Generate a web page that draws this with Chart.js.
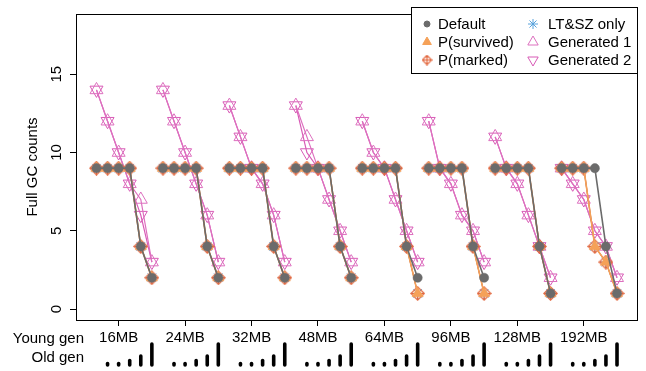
<!DOCTYPE html>
<html>
<head>
<meta charset="utf-8">
<script src="https://cdn.jsdelivr.net/npm/chart.js@4.4.1/dist/chart.umd.min.js"></script>
<style>
  html, body { margin: 0; padding: 0; background: #fff; }
</style>
</head>
<body>
<canvas id="gcChart" width="646" height="371"></canvas>
<script>
// young gen size per group, old gen grows left to right inside each group
const youngGen = ['16MB', '24MB', '32MB', '48MB', '64MB', '96MB', '128MB', '192MB'];
const oldGenSteps = [0, 1, 1, 3, 6, 14];

// full GC counts, 6 old gen sizes per young gen group
const defaultGC = [
  9, 9, 9, 9, 4, 2,
  9, 9, 9, 9, 4, 2,
  9, 9, 9, 9, 4, 2,
  9, 9, 9, 9, 4, 2,
  9, 9, 9, 9, 4, 2,
  9, 9, 9, 9, 4, 2,
  9, 9, 9, 9, 4, 1,
  9, 9, 9, 9, 4, 1
];
const survivedGC = [
  9, 9, 9, 9, 4, 2,
  9, 9, 9, 9, 4, 2,
  9, 9, 9, 9, 4, 2,
  9, 9, 9, 9, 4, 2,
  9, 9, 9, 9, 4, 1,
  9, 9, 9, 9, 4, 1,
  9, 9, 9, 9, 4, 1,
  9, 9, 9, 4, 3, 1
];
const markedGC = [
  9, 9, 9, 9, 4, 2,
  9, 9, 9, 9, 4, 2,
  9, 9, 9, 9, 4, 2,
  9, 9, 9, 9, 4, 2,
  9, 9, 9, 9, 4, 1,
  9, 9, 9, 9, 4, 1,
  9, 9, 9, 9, 4, 1,
  9, 9, 9, 4, 3, 1
];
const ltszGC = [
  9, 9, 9, 9, 4, 2,
  9, 9, 9, 9, 4, 2,
  9, 9, 9, 9, 4, 2,
  9, 9, 9, 9, 4, 2,
  9, 9, 9, 9, 4, 1,
  9, 9, 9, 9, 4, 1,
  9, 9, 9, 9, 4, 1,
  9, 9, 9, 4, 3, 1
];
const gen1GC = [
  14, 12, 10, 8, 7, 3,
  14, 12, 10, 8, 6, 3,
  13, 11, 9, 8, 6, 3,
  13, 11, 9, 7, 5, 3,
  12, 10, 9, 7, 5, 3,
  12, 9, 8, 6, 5, 3,
  11, 9, 8, 6, 4, 2,
  9, 8, 7, 5, 4, 2
];
const gen2GC = [
  14, 12, 10, 8, 6, 3,
  14, 12, 10, 8, 6, 3,
  13, 11, 9, 8, 6, 3,
  13, 10, 9, 7, 5, 3,
  12, 10, 9, 7, 5, 3,
  12, 9, 8, 6, 5, 3,
  11, 9, 8, 6, 4, 2,
  9, 8, 7, 5, 4, 2
];
const yTicks = [0, 5, 10, 15];

const groupSize = 6;

// break the line between groups
function toPoints(values) {
  const pts = [];
  values.forEach((v, i) => {
    pts.push({ x: i + 1, y: v });
    if ((i + 1) % groupSize === 0 && i < values.length - 1) {
      pts.push({ x: i + 1.5, y: null });
    }
  });
  return pts;
}

// R pch 9: diamond with a plus inside
function diamondPlus(size, color) {
  const c = document.createElement('canvas');
  c.width = size;
  c.height = size;
  const g = c.getContext('2d');
  const m = size / 2;
  g.strokeStyle = color;
  g.lineWidth = 1.2;
  g.beginPath();
  g.moveTo(m, 0.8);
  g.lineTo(size - 0.8, m);
  g.lineTo(m, size - 0.8);
  g.lineTo(0.8, m);
  g.closePath();
  g.moveTo(0.8, m);
  g.lineTo(size - 0.8, m);
  g.moveTo(m, 0.8);
  g.lineTo(m, size - 0.8);
  g.stroke();
  return c;
}

const gray = '#6b6b6b';
const orange = '#f5a158';
const red = '#e2673e';
const blue = '#58a2dc';
const pink1 = '#dd70bf';
const pink2 = '#d85ab6';

const markedImg = diamondPlus(15, red);
const markedImgSmall = diamondPlus(11, red);

const datasets = [
  { label: 'Default', data: toPoints(defaultGC), borderColor: gray, backgroundColor: gray,
    borderWidth: 1.6, pointStyle: 'circle', pointRadius: 4.6, pointBorderWidth: 0.5,
    legendStyle: { pointStyle: 'circle', radius: 3, fill: gray } },
  { label: 'P(survived)', data: toPoints(survivedGC), borderColor: orange, backgroundColor: orange,
    borderWidth: 1.6, pointStyle: 'triangle', pointRadius: 6.5, pointBorderWidth: 0.5,
    legendStyle: { pointStyle: 'triangle', radius: 5, fill: orange } },
  { label: 'P(marked)', data: toPoints(markedGC), borderColor: red, backgroundColor: red,
    borderWidth: 1.2, pointStyle: markedImg, pointRadius: 7,
    legendStyle: { pointStyle: markedImgSmall, radius: 5 } },
  { label: 'LT&SZ only', data: toPoints(ltszGC), borderColor: blue, backgroundColor: blue,
    borderWidth: 1, pointStyle: 'star', pointRadius: 6, pointBorderWidth: 1,
    legendStyle: { pointStyle: 'star', radius: 5 } },
  { label: 'Generated 1', data: toPoints(gen1GC), borderColor: pink1, backgroundColor: 'rgba(0,0,0,0)',
    borderWidth: 1.2, pointStyle: 'triangle', pointRadius: 7.5, pointBorderWidth: 1,
    legendStyle: { pointStyle: 'triangle', radius: 6 } },
  { label: 'Generated 2', data: toPoints(gen2GC), borderColor: pink2, backgroundColor: 'rgba(0,0,0,0)',
    borderWidth: 1.2, pointStyle: 'triangle', pointRotation: 180, pointRadius: 7.5, pointBorderWidth: 1,
    legendStyle: { pointStyle: 'triangle', radius: 6, rotation: 180 } }
];

// box around the plot, like R's box()
const frame = {
  id: 'frame',
  afterDraw(chart) {
    const { ctx, chartArea: a } = chart;
    ctx.save();
    ctx.strokeStyle = '#000';
    ctx.lineWidth = 1;
    ctx.strokeRect(Math.round(a.left) + 0.5, Math.round(a.top) + 0.5,
      Math.round(a.right - a.left) - 1, Math.round(a.bottom - a.top));
    ctx.restore();
  }
};

// old gen size bars under the young gen labels
const oldGenRow = {
  id: 'oldGenRow',
  afterDraw(chart) {
    const { ctx, chartArea: a } = chart;
    const x = chart.scales.x;
    const base = a.bottom + 45;
    ctx.save();
    ctx.strokeStyle = '#000';
    ctx.lineWidth = 3.6;
    ctx.lineCap = 'round';
    for (let i = 0; i < defaultGC.length; i++) {
      const step = oldGenSteps[i % groupSize];
      if (!step) continue;
      const px = x.getPixelForValue(i + 1);
      ctx.beginPath();
      ctx.moveTo(px, base);
      ctx.lineTo(px, base - step * 1.5);
      ctx.stroke();
    }
    ctx.fillStyle = '#000';
    ctx.font = '15px "Liberation Sans", Arial, sans-serif';
    ctx.textAlign = 'right';
    ctx.textBaseline = 'middle';
    ctx.fillText('Young gen', 84, a.bottom + 19);
    ctx.fillText('Old gen', 84, a.bottom + 38);
    ctx.restore();
  }
};

// R style legend box, filled column by column
const boxLegend = {
  id: 'boxLegend',
  afterDraw(chart) {
    const { ctx } = chart;
    const left = 411, top = 7, right = 638, bottom = 73;
    const symX = [left + 16, left + 122];
    const textX = [left + 27, left + 137];
    const rowY = [top + 17, top + 35, top + 53];
    ctx.save();
    ctx.fillStyle = '#fff';
    ctx.fillRect(left, top, right - left, bottom - top);
    ctx.strokeStyle = '#000';
    ctx.lineWidth = 1;
    ctx.strokeRect(left + 0.5, top + 0.5, right - left - 1, bottom - top);
    ctx.font = '15px "Liberation Sans", Arial, sans-serif';
    ctx.textBaseline = 'middle';
    ctx.textAlign = 'left';
    chart.data.datasets.forEach((ds, i) => {
      const col = Math.floor(i / 3);
      const row = i % 3;
      const st = ds.legendStyle;
      ctx.fillStyle = st.fill || 'rgba(0,0,0,0)';
      ctx.strokeStyle = ds.borderColor;
      ctx.lineWidth = 1;
      Chart.helpers.drawPoint(ctx, {
        pointStyle: st.pointStyle,
        rotation: st.rotation || 0,
        radius: st.radius,
        borderWidth: 1
      }, symX[col], rowY[row]);
      ctx.fillStyle = '#000';
      ctx.fillText(ds.label, textX[col], rowY[row] + 1);
    });
    ctx.restore();
  }
};

Chart.defaults.font.family = '"Liberation Sans", Arial, sans-serif';
Chart.defaults.font.size = 15;
Chart.defaults.color = '#000';

new Chart(document.getElementById('gcChart'), {
  type: 'line',
  data: { datasets },
  options: {
    responsive: false,
    animation: false,
    events: [],
    spanGaps: false,
    layout: { padding: { top: 7, right: 8, left: 0, bottom: 0 } },
    plugins: {
      legend: { display: false },
      tooltip: { enabled: false }
    },
    elements: { line: { tension: 0 } },
    scales: {
      x: {
        type: 'linear',
        min: -0.85,
        max: 49.85,
        afterBuildTicks: (scale) => {
          scale.ticks = youngGen.map((g, i) => ({ value: i * groupSize + 3 }));
        },
        afterFit: (scale) => { scale.height = 51; },
        ticks: {
          autoSkip: false,
          maxRotation: 0,
          padding: 3,
          callback: (value, index) => youngGen[index]
        },
        grid: { drawOnChartArea: false, drawTicks: true, tickLength: 6, color: '#000' },
        border: { display: false }
      },
      y: {
        type: 'linear',
        min: -0.7,
        max: 18.85,
        afterBuildTicks: (scale) => {
          scale.ticks = yTicks.map(v => ({ value: v }));
        },
        afterFit: (scale) => { scale.width = 76; },
        ticks: {
          minRotation: 90,
          maxRotation: 90,
          crossAlign: 'center',
          padding: 5
        },
        grid: { drawOnChartArea: false, drawTicks: true, tickLength: 6, color: '#000' },
        border: { display: false },
        title: {
          display: true,
          text: 'Full GC counts',
          padding: { top: 24, bottom: 0 }
        }
      }
    }
  },
  plugins: [frame, oldGenRow, boxLegend]
});
</script>
</body>
</html>
